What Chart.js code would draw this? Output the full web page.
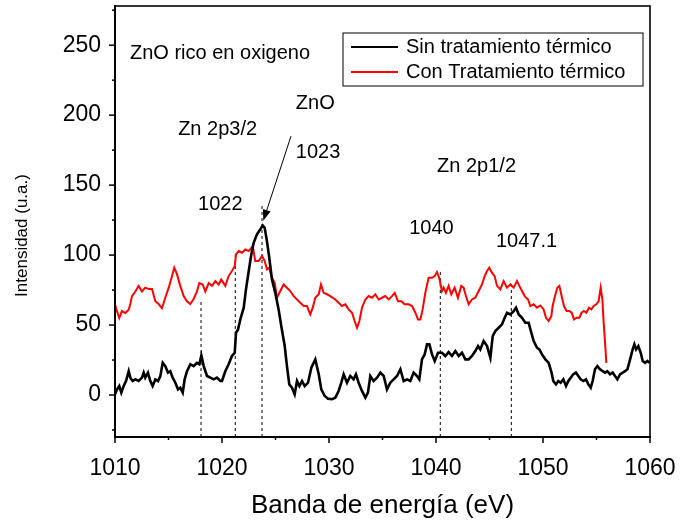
<!DOCTYPE html>
<html>
<head>
<meta charset="utf-8">
<title>ZnO XPS</title>
<script src="https://cdn.jsdelivr.net/npm/chart.js@4.4.1/dist/chart.umd.min.js"></script>
<style>
  html, body { margin: 0; padding: 0; background: #fff; }
</style>
</head>
<body>
<canvas id="xps" width="680" height="522"></canvas>
<script>

// energia (eV) / intensidad - muestra sin tratamiento
const sinE = [1010.0,1010.19,1010.4,1010.59,1010.81,1011.03,1011.28,1011.43,1011.65,1011.9,1012.21,1012.52,1012.68,1012.83,1013.08,1013.3,1013.52,1013.77,1014.02,1014.24,1014.46,1014.7,1014.95,1015.17,1015.39,1015.64,1015.89,1016.1,1016.33,1016.51,1016.73,1017.04,1017.35,1017.66,1017.88,1018.07,1018.29,1018.6,1018.91,1019.22,1019.53,1019.84,
  1020.0,1020.31,1020.62,1020.93,1021.19,1021.31,1021.5,1021.71,1022.03,1022.24,1022.5,1022.74,1022.96,1023.27,1023.58,1023.8,1023.99,1024.2,1024.42,1024.67,1024.98,1025.29,1025.54,1025.86,1026.07,1026.29,1026.54,1026.79,1027.01,1027.23,1027.48,1027.73,1028.04,1028.35,1028.72,1029.04,1029.28,1029.6,1029.91,
  1030.28,1030.59,1030.9,1031.15,1031.37,1031.68,1031.99,1032.3,1032.52,1032.77,1033.08,1033.4,1033.64,1033.86,1034.17,1034.49,1034.8,1035.11,1035.42,1035.73,1036.04,1036.36,1036.67,1036.98,1037.29,1037.6,1037.91,1038.22,1038.44,1038.69,1038.94,1039.16,1039.38,1039.63,1039.88,1040.19,
  1040.56,1040.87,1041.18,1041.49,1041.81,1042.12,1042.43,1042.74,1043.05,1043.36,1043.67,1043.93,1044.14,1044.45,1044.77,1045.08,1045.3,1045.54,1045.86,1046.17,1046.42,1046.64,1046.95,1047.26,1047.48,1047.73,1048.04,1048.35,1048.66,1048.91,1049.13,1049.44,1049.66,1049.91,1050.22,1050.53,
  1050.8,1050.96,1051.21,1051.43,1051.65,1051.9,1052.15,1052.37,1052.59,1052.83,1053.08,1053.3,1053.52,1053.77,1054.02,1054.24,1054.46,1054.64,1054.86,1055.08,1055.33,1055.58,1055.8,1056.01,1056.26,1056.51,1056.73,1056.95,1057.2,1057.45,1057.67,1057.89,1058.14,1058.38,1058.54,1058.7,1058.91,1059.13,1059.32,1059.54,1059.76,1059.94];
const sinI = [0.5,4,6.4,1.7,6.4,10,17,12.4,10,11.2,10,12.4,16,12.4,16,10,6.4,11.2,10,13.6,23,20.7,16,17,12.4,8.8,4,5.2,1.7,11.2,17,22,20.7,23,22,28.3,20.7,13.6,12.4,11.2,12.4,10,
  10,17,22,27.9,30.2,44.5,46.9,54,62.4,75.5,88.6,100.5,108.8,114.8,118.4,121.2,119.5,110,98,82.6,73,61.2,49.3,35,20.7,7.6,5.2,0.5,10,6.4,10,6.4,8.8,19.5,25.5,14.8,4,-0.7,-2.6,
  -3,-1.9,2.9,8.8,14.8,8.8,13.6,11.2,14.8,8.8,2.9,-1.9,1.7,13.6,10,12.4,16,13.6,4,8.8,11.2,13.6,18.4,10,11.2,10,16,13.6,11.2,25.5,29,36.2,36.2,29,24.3,30.2,
  30.2,27.9,30.7,27.9,31.4,27.9,30.2,25.5,25.5,27.9,31.4,35,32.6,38.6,35,26.6,42.1,45.7,48.1,50.5,55.2,58.8,57.6,60,62.4,57.6,55.2,51.6,51.6,44.5,38.6,33.8,32.6,29,25.5,23,
  16,10,7.6,10,8.8,11.2,6.4,10,12.4,14.8,16,13.6,11.2,10,11.2,7.6,5.2,10,18.4,20.7,18.4,17,16,17,14.8,16,13.6,11.2,14.8,16,17,18.4,25.5,32.6,36.2,32.6,35,30.2,24.3,23,24.3,23];

// energia (eV) / intensidad - muestra con tratamiento
const conE = [1010.0,1010.1,1010.4,1010.65,1010.97,1011.28,1011.43,1011.59,1011.9,1012.21,1012.52,1012.83,1013.15,1013.46,1013.77,1014.08,1014.39,1014.7,1015.02,1015.33,1015.54,1015.79,1016.1,1016.42,1016.73,1017.04,1017.35,1017.66,1017.88,1018.2,1018.44,1018.76,1019.07,1019.38,1019.69,1019.93,
  1020.31,1020.62,1020.93,1021.19,1021.31,1021.56,1021.87,1022.18,1022.5,1022.87,1023.11,1023.43,1023.74,1023.99,1024.2,1024.42,1024.67,1024.92,1025.14,1025.45,1025.76,1026.07,1026.38,1026.7,1027.01,1027.32,1027.64,1027.94,1028.25,1028.48,1028.72,1029.04,1029.25,1029.5,1029.81,1030.12,
  1030.59,1030.9,1031.21,1031.53,1031.84,1032.15,1032.4,1032.62,1032.84,1033.08,1033.4,1033.71,1034.02,1034.33,1034.64,1034.95,1035.26,1035.58,1035.89,1036.14,1036.45,1036.76,1037.07,1037.45,1037.76,1038.07,1038.32,1038.54,1038.75,1039.0,1039.31,1039.63,1039.88,1040.09,1040.3,1040.56,
  1040.71,1040.93,1041.18,1041.43,1041.74,1042.05,1042.36,1042.58,1042.8,1043.05,1043.36,1043.67,1043.99,1044.3,1044.55,1044.77,1044.98,1045.23,1045.48,1045.7,1046.01,1046.32,1046.63,1046.95,1047.26,1047.57,1047.79,1048.04,1048.29,1048.6,1048.82,1049.13,1049.44,1049.75,1050.06,1050.28,1050.53,1050.78,
  1050.9,1051.12,1051.34,1051.53,1051.74,1051.96,1052.21,1052.46,1052.68,1052.9,1053.15,1053.4,1053.61,1053.83,1054.05,1054.3,1054.52,1054.74,1054.98,1055.2,1055.39,1055.55,1055.67,1055.8,1055.92];
const conI = [65,62,55,60,58.6,61,65,70.7,74,78,74,76.7,75.7,75.7,67,65,62,69.5,76.7,85,91,86.4,78,70.7,67,65,68.6,74,80,79,74,80,78,81.4,79,82.6,
  78,85,88.6,92,100.5,102.9,101.7,104,102.9,106.4,95.7,95.7,99.3,95.7,89.8,91,83.8,80.2,69.5,74.3,79,76.7,74.3,70.7,68.3,65.9,63.6,63.6,57.6,62.4,69.5,72,79,73,72,70.7,
  68.3,66,63.6,64.8,61.2,58.8,52.9,48.1,52.9,62.4,68.3,70.7,69.5,72,68.3,69.5,70.7,68.3,70.7,73,67,67,64.8,64.8,63.6,58.8,54,54,61.2,73,83.8,83.8,85,87.9,83.8,74.3,
  76.7,73,78,72,76.7,69.5,78,76.7,70.7,64.8,68.3,69.5,74.3,79,85,88.6,91,87.4,85,78,75.5,81.4,76.7,79,76.7,81.4,78,74.3,70.7,68.3,63.6,64.8,62.4,64,61.2,55.2,52.9,56.4,
  63.6,70.7,76.7,78,70.7,63.6,60,60,58.8,54,55.2,55.2,58.8,60,58.8,62.4,61.2,63.6,64.8,67,76.7,68.3,51.6,37.4,23];

// posiciones de picos (lineas punteadas) y su altura
const peakE = [1018.04, 1021.24, 1023.74, 1040.4, 1047.04];
const peakTop = [67, 101, 137, 88, 80];

const xTicks = [1010,1015,1020,1025,1030,1035,1040,1045,1050,1055,1060];
const yTicks = [-25,0,25,50,75,100,125,150,175,200,225,250,275];
const Y_MIN = -30, Y_MAX = 278;

const FONT = '"Liberation Sans", Arial, sans-serif';
const Y_TITLE = 'Intensidad (u.a.)';

// textos sobre el grafico (coordenadas en eV / u.a.)
const notes = [
  { text: 'ZnO rico en oxigeno', x: 1011.4, y: 244 },
  { text: 'Zn 2p3/2', x: 1015.9, y: 190 },
  { text: 'ZnO', x: 1026.9, y: 208 },
  { text: '1023', x: 1026.9, y: 173 },
  { text: '1022', x: 1017.76, y: 136 },
  { text: 'Zn 2p1/2', x: 1040.1, y: 163 },
  { text: '1040', x: 1037.5, y: 119 },
  { text: '1047.1', x: 1045.6, y: 110 }
];
const arrowFrom = [1026.45, 185];
const arrowTo = [1023.86, 124.5];

const toXY = (xs, ys) => xs.map((x, i) => ({ x: x, y: ys[i] }));

const datasets = [
  { label: 'Sin tratamiento térmico', data: toXY(sinE, sinI), borderColor: '#000', borderWidth: 2.6 },
  { label: 'Con Tratamiento térmico', data: toXY(conE, conI), borderColor: '#ff0000', borderWidth: 2 }
];
peakE.forEach((e, i) => {
  datasets.push({
    label: '',
    data: [{ x: e, y: Y_MIN }, { x: e, y: peakTop[i] }],
    borderColor: '#000',
    borderWidth: 1,
    borderDash: [3, 3]
  });
});

// sin margenes extra de las etiquetas: el area del grafico queda fija
const noEdgePad = s => {
  s.paddingLeft = 0; s.paddingRight = 0;
  s.paddingTop = 0; s.paddingBottom = 0;
};

// marcas mayores / menores, marco, leyenda y anotaciones
const decor = {
  id: 'decor',
  afterDraw(chart) {
    const ctx = chart.ctx;
    const a = chart.chartArea;
    const sx = chart.scales.x, sy = chart.scales.y;
    ctx.save();
    ctx.strokeStyle = '#000';
    ctx.lineWidth = 1.6;
    ctx.strokeRect(a.left, a.top, a.right - a.left, a.bottom - a.top);

    ctx.lineWidth = 1.5;
    xTicks.forEach(v => {
      const px = sx.getPixelForValue(v);
      const len = v % 10 === 0 ? 6 : 3;
      ctx.beginPath();
      ctx.moveTo(px, a.bottom);
      ctx.lineTo(px, a.bottom + len);
      ctx.stroke();
    });
    yTicks.forEach(v => {
      const py = sy.getPixelForValue(v);
      const len = v % 50 === 0 ? 6 : 3;
      ctx.beginPath();
      ctx.moveTo(a.left, py);
      ctx.lineTo(a.left - len, py);
      ctx.stroke();
    });

    // flecha hacia el pico de ZnO
    const x0 = sx.getPixelForValue(arrowFrom[0]), y0 = sy.getPixelForValue(arrowFrom[1]);
    const x1 = sx.getPixelForValue(arrowTo[0]), y1 = sy.getPixelForValue(arrowTo[1]);
    const ang = Math.atan2(y1 - y0, x1 - x0);
    const head = 11, wing = 4;
    ctx.lineWidth = 1;
    ctx.beginPath();
    ctx.moveTo(x0, y0);
    ctx.lineTo(x1 - head * Math.cos(ang), y1 - head * Math.sin(ang));
    ctx.stroke();
    ctx.beginPath();
    ctx.moveTo(x1, y1);
    ctx.lineTo(x1 - head * Math.cos(ang) + wing * Math.sin(ang), y1 - head * Math.sin(ang) - wing * Math.cos(ang));
    ctx.lineTo(x1 - head * Math.cos(ang) - wing * Math.sin(ang), y1 - head * Math.sin(ang) + wing * Math.cos(ang));
    ctx.closePath();
    ctx.fillStyle = '#000';
    ctx.fill();

    ctx.font = '20px ' + FONT;
    ctx.fillStyle = '#000';
    ctx.textAlign = 'left';
    ctx.textBaseline = 'middle';
    notes.forEach(n => {
      ctx.fillText(n.text, sx.getPixelForValue(n.x), sy.getPixelForValue(n.y));
    });

    // leyenda con recuadro
    const box = { left: 343, top: 33, width: 300, height: 53 };
    ctx.lineWidth = 1;
    ctx.strokeRect(box.left, box.top, box.width, box.height);
    chart.data.datasets.filter(d => d.label).forEach((d, i) => {
      const cy = box.top + 14 + i * 25;
      ctx.strokeStyle = d.borderColor;
      ctx.lineWidth = 2;
      ctx.beginPath();
      ctx.moveTo(box.left + 8, cy);
      ctx.lineTo(box.left + 55, cy);
      ctx.stroke();
      ctx.fillText(d.label, box.left + 63, cy);
    });

    // titulo del eje y, algo por debajo del centro
    ctx.save();
    ctx.translate(22, (a.top + a.bottom) / 2 + 14);
    ctx.rotate(-Math.PI / 2);
    ctx.font = '17px ' + FONT;
    ctx.textAlign = 'center';
    ctx.fillText(Y_TITLE, 0, 0);
    ctx.restore();
    ctx.restore();
  }
};

new Chart(document.getElementById('xps'), {
  type: 'line',
  data: { datasets: datasets },
  plugins: [decor],
  options: {
    responsive: false,
    animation: false,
    layout: { padding: { top: 6, right: 30, left: 0, bottom: 0 } },
    elements: { point: { radius: 0 }, line: { tension: 0, fill: false } },
    plugins: { legend: { display: false }, tooltip: { enabled: false } },
    scales: {
      x: {
        type: 'linear',
        min: 1010,
        max: 1060,
        afterBuildTicks: s => { s.ticks = xTicks.map(v => ({ value: v })); },
        afterFit: s => { s.height = 85; noEdgePad(s); },
        grid: { display: false },
        border: { display: true, color: '#000', width: 2 },
        ticks: {
          padding: 10,
          color: '#000',
          autoSkip: false,
          maxRotation: 0,
          font: { family: FONT, size: 23 },
          callback: v => v % 10 === 0 ? String(v) : ''
        },
        title: {
          display: true,
          text: 'Banda de energía (eV)',
          color: '#000',
          font: { family: FONT, size: 26 },
          padding: { top: 0, bottom: 1 }
        }
      },
      y: {
        type: 'linear',
        min: Y_MIN,
        max: Y_MAX,
        afterBuildTicks: s => { s.ticks = yTicks.map(v => ({ value: v })); },
        afterFit: s => { s.width = 115; noEdgePad(s); },
        grid: { display: false },
        border: { display: true, color: '#000', width: 2 },
        ticks: {
          padding: 6,
          color: '#000',
          autoSkip: false,
          font: { family: FONT, size: 23 },
          callback: v => v % 50 === 0 ? String(v) : ''
        },
        title: { display: false }
      }
    }
  }
});
</script>
</body>
</html>
